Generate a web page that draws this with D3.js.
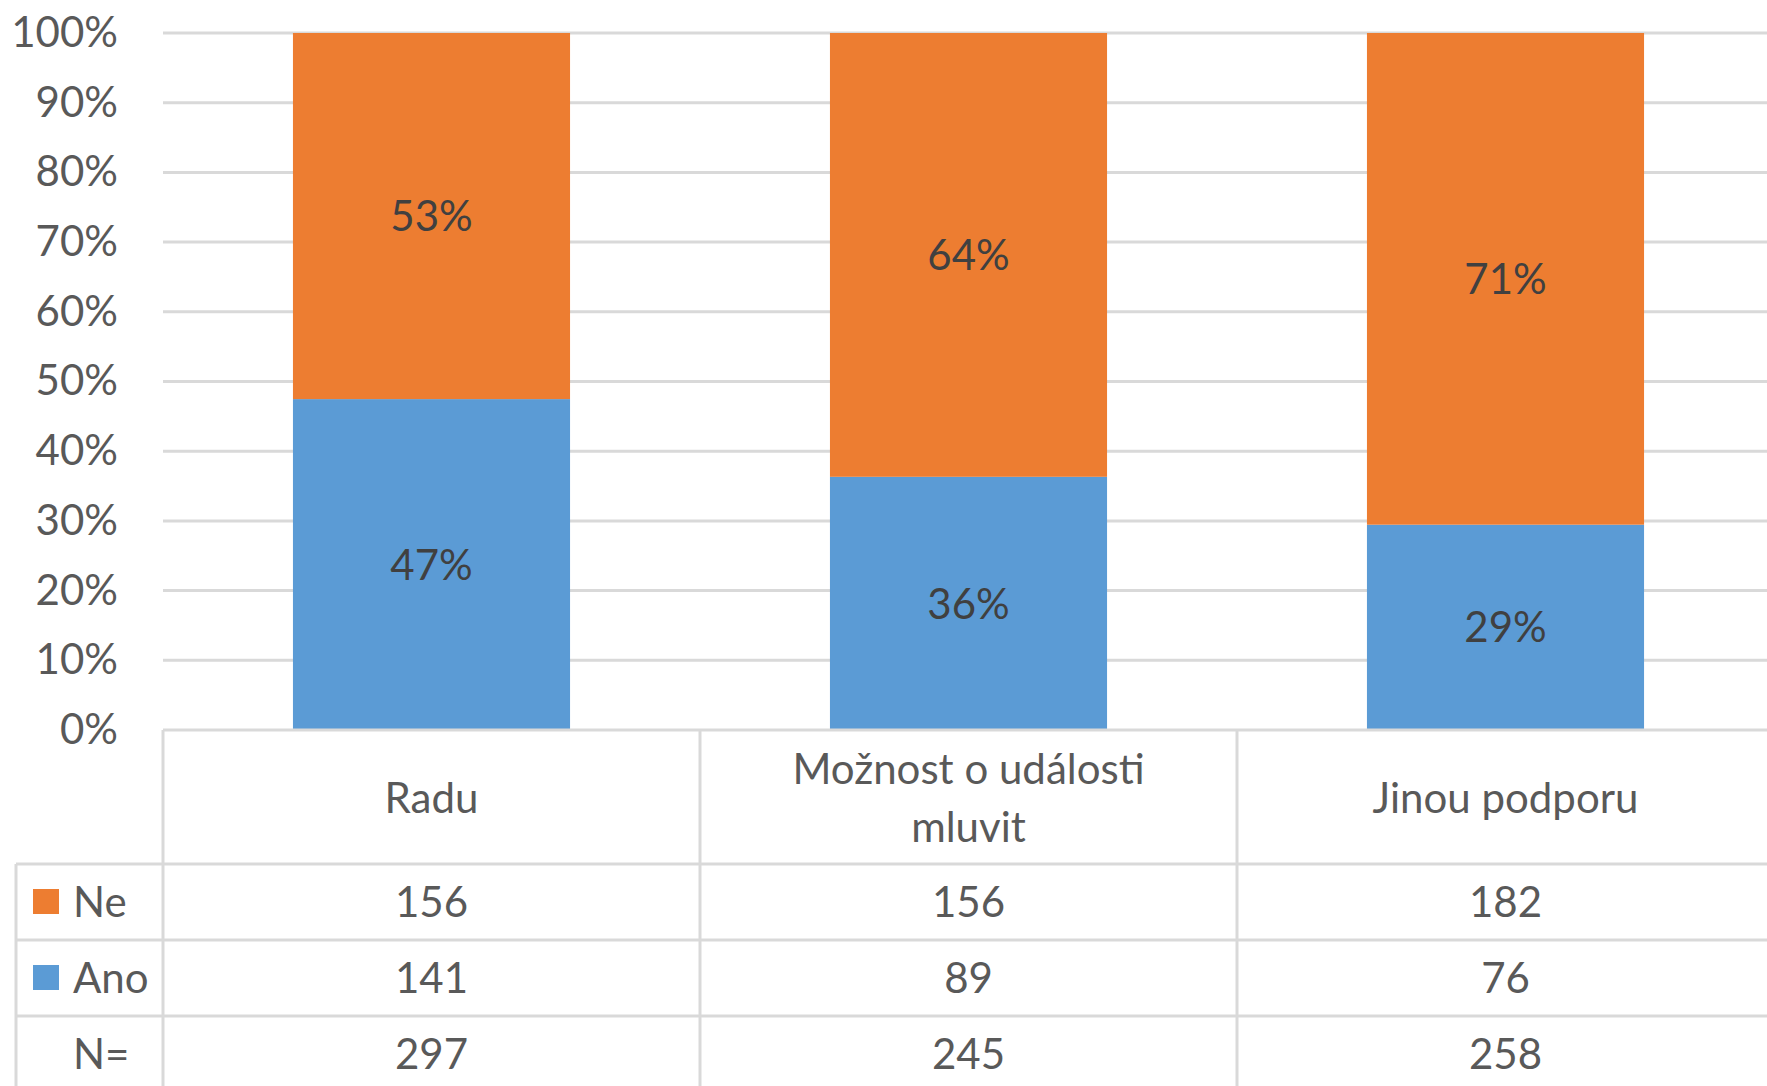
<!DOCTYPE html>
<html><head><meta charset="utf-8">
<script src="https://cdn.jsdelivr.net/npm/d3@7"></script>
<style>html,body{margin:0;padding:0;background:#fff;overflow:hidden}</style>
</head><body>
<svg id="c" width="1767" height="1086"></svg>
<script>
const categories = ["Radu", "Možnost o události mluvit", "Jinou podporu"];
const seriesNames = ["Ne", "Ano"];
const neValues = [156, 156, 182];
const anoValues = [141, 89, 76];
const totals = [297, 245, 258];
const yTicks = [0, 0.1, 0.2, 0.3, 0.4, 0.5, 0.6, 0.7, 0.8, 0.9, 1.0];

const colors = {Ne: "#ED7D31", Ano: "#5B9BD5"};
const W = 1767, H = 1086;
const plotLeft = 163, plotTop = 33, plotBottom = 730, step = 537;
const font = "Lato, 'Open Sans', sans-serif";
const svg = d3.select("#c");

const x = d3.scaleBand().domain(categories)
  .range([plotLeft, plotLeft + step * categories.length])
  .paddingInner(0.484).paddingOuter(0.242);
const xCell = d3.scaleBand().domain(categories)
  .range([plotLeft, plotLeft + step * categories.length]).padding(0);
const y = d3.scaleLinear().domain([0, 1]).range([plotBottom, plotTop]);

// gridlines
svg.append("g").selectAll("line").data(yTicks.slice(1)).join("line")
  .attr("x1", plotLeft).attr("x2", W)
  .attr("y1", d => y(d)).attr("y2", d => y(d))
  .attr("stroke", "#d9d9d9").attr("stroke-width", 3);

// y axis labels
const yAxis = d3.axisLeft(y).tickValues(yTicks).tickFormat(d3.format(".0%"))
  .tickSize(0).tickPadding(45);
const gy = svg.append("g").attr("transform", `translate(${plotLeft},0)`).call(yAxis);
gy.select(".domain").remove();
gy.selectAll("text").attr("font-family", font).attr("font-size", 42).attr("fill", "#595959");

// stacked data
const rows = categories.map((c, i) => ({cat: c, Ano: anoValues[i] / totals[i], Ne: neValues[i] / totals[i]}));
const stack = d3.stack().keys(["Ano", "Ne"])(rows);
const pctFmt = d3.format(".0%");

const layers = svg.append("g").selectAll("g").data(stack).join("g")
  .attr("fill", d => colors[d.key]);
layers.selectAll("rect").data(d => d).join("rect")
  .attr("x", d => x(d.data.cat)).attr("width", x.bandwidth())
  .attr("y", d => y(d[1])).attr("height", d => y(d[0]) - y(d[1]));

const lbl = svg.append("g");
stack.forEach(layer => {
  layer.forEach(d => {
    lbl.append("text")
      .attr("x", x(d.data.cat) + x.bandwidth() / 2)
      .attr("y", (y(d[0]) + y(d[1])) / 2)
      .attr("dy", "0.36em").attr("text-anchor", "middle")
      .attr("font-family", font).attr("font-size", 42).attr("fill", "#404040")
      .text(pctFmt(d[1] - d[0]));
  });
});

// data table
const rowTop = [730, 864, 940, 1016];
const rowBottom = [864, 940, 1016, 1092];
const tableLeft = 16;
const lineC = "#d9d9d9";
const tg = svg.append("g");
// horizontal lines
tg.append("line").attr("x1", plotLeft).attr("x2", W).attr("y1", rowTop[0]).attr("y2", rowTop[0]);
[rowTop[1], rowTop[2], rowTop[3]].forEach(v =>
  tg.append("line").attr("x1", tableLeft).attr("x2", W).attr("y1", v).attr("y2", v));
// vertical lines
tg.append("line").attr("x1", tableLeft).attr("x2", tableLeft).attr("y1", rowTop[1]).attr("y2", H);
categories.forEach(c =>
  tg.append("line").attr("x1", xCell(c)).attr("x2", xCell(c)).attr("y1", rowTop[0]).attr("y2", H));
tg.append("line").attr("x1", xCell(categories[2]) + xCell.bandwidth()).attr("x2", xCell(categories[2]) + xCell.bandwidth()).attr("y1", rowTop[0]).attr("y2", H);
tg.selectAll("line").attr("stroke", lineC).attr("stroke-width", 3);

// category header (wrapped)
function wrapLines(text, maxW, size) {
  const words = text.split(" ");
  const tmp = svg.append("text").attr("font-family", font).attr("font-size", size);
  const lines = []; let cur = "";
  words.forEach(w => {
    const t = cur ? cur + " " + w : w;
    tmp.text(t);
    if (tmp.node().getComputedTextLength() > maxW && cur) { lines.push(cur); cur = w; }
    else cur = t;
  });
  lines.push(cur); tmp.remove();
  return lines;
}
const hdrMid = (rowTop[0] + rowBottom[0]) / 2;
categories.forEach(c => {
  const lines = wrapLines(c, 420, 42);
  const lh = 58;
  const t = svg.append("text").attr("text-anchor", "middle")
    .attr("font-family", font).attr("font-size", 42).attr("fill", "#595959");
  lines.forEach((ln, i) => {
    t.append("tspan").attr("x", xCell(c) + xCell.bandwidth() / 2)
      .attr("y", hdrMid + (i - (lines.length - 1) / 2) * lh + 1)
      .attr("dy", "0.36em").text(ln);
  });
});

// rows: Ne, Ano, N=
const tableRows = [
  {name: "Ne", vals: neValues, color: colors.Ne},
  {name: "Ano", vals: anoValues, color: colors.Ano},
  {name: "N=", vals: totals, color: null}
];
tableRows.forEach((r, ri) => {
  const mid = (rowTop[ri + 1] + rowBottom[ri + 1]) / 2;
  if (r.color) {
    svg.append("rect").attr("x", 33).attr("y", mid - 13).attr("width", 26).attr("height", 25).attr("fill", r.color);
  }
  svg.append("text").attr("x", 73).attr("y", mid).attr("dy", "0.36em")
    .attr("font-family", font).attr("font-size", 42).attr("fill", "#595959").text(r.name);
  r.vals.forEach((v, i) => {
    svg.append("text").attr("x", xCell(categories[i]) + xCell.bandwidth() / 2)
      .attr("y", mid).attr("dy", "0.36em").attr("text-anchor", "middle")
      .attr("font-family", font).attr("font-size", 42).attr("fill", "#595959").text(v);
  });
});
</script>
</body></html>
